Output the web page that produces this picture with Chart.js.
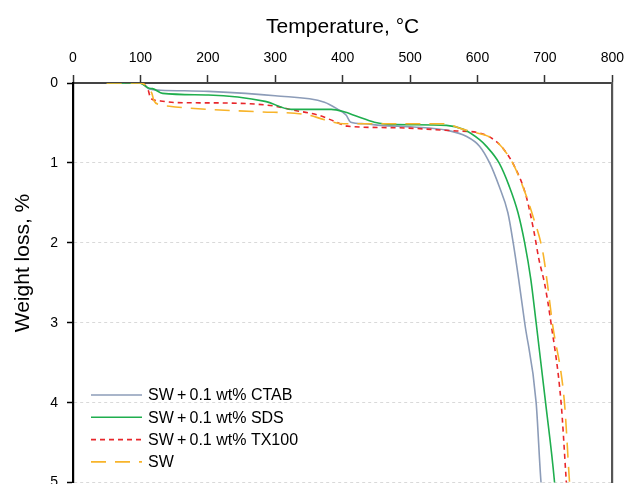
<!DOCTYPE html>
<html>
<head>
<meta charset="utf-8">
<script src="https://cdn.jsdelivr.net/npm/chart.js@4.4.1/dist/chart.umd.min.js"></script>
<style>
  html, body { margin: 0; padding: 0; background: #fff; overflow: hidden; }
  #wrap { width: 632px; height: 500px; }
</style>
</head>
<body>
<div id="wrap"><canvas id="myChart" width="632" height="500"></canvas></div>
<script>
// temperature (°C) and weight loss (%), one pair per curve
const ctabT = [50, 98, 105, 113, 130, 201, 300, 373, 393, 405, 412, 432, 456, 505, 554, 584, 603, 618, 632, 645, 653, 661, 670, 687, 694, 698]
const ctabW = [0, 0, 0.02, 0.075, 0.09, 0.105, 0.16, 0.24, 0.33, 0.40, 0.49, 0.51, 0.53, 0.55, 0.59, 0.67, 0.79, 1.0, 1.29, 1.62, 2.0, 2.45, 3.0, 4.0, 4.97, 5.3]

const sdsT = [50, 99, 113, 118, 133, 201, 285, 324, 383, 402, 422, 447, 480, 554, 579, 603, 613, 632, 647, 660, 670, 679, 687, 701, 714, 717]
const sdsW = [0, 0, 0.066, 0.07, 0.13, 0.15, 0.23, 0.33, 0.33, 0.36, 0.42, 0.49, 0.52, 0.53, 0.58, 0.71, 0.79, 1.0, 1.29, 1.62, 2.0, 2.45, 3.0, 4.0, 4.97, 5.3]

const tx100T = [50, 100, 108, 112, 115, 130, 152, 226, 300, 324, 363, 388, 407, 481, 569, 603, 635, 657, 672, 684, 691, 700, 709, 724, 731, 734]
const tx100W = [0, 0, 0.04, 0.1, 0.19, 0.225, 0.245, 0.25, 0.29, 0.335, 0.40, 0.48, 0.54, 0.56, 0.6, 0.625, 0.79, 1.08, 1.41, 1.87, 2.2, 2.53, 3.0, 4.0, 4.89, 5.3]

const swT = [50, 100, 108, 113, 117, 120, 128, 143, 201, 275, 349, 373, 402, 481, 549, 579, 588, 628, 652, 667, 682, 697, 704, 711, 729, 736, 739]
const swW = [0, 0, 0.03, 0.08, 0.13, 0.22, 0.27, 0.29, 0.33, 0.36, 0.40, 0.46, 0.51, 0.51, 0.51, 0.58, 0.6, 0.73, 1.0, 1.29, 1.66, 2.12, 2.53, 3.0, 4.0, 4.93, 5.3]

const seriesNames = ['SW\u2009+\u20090.1 wt% CTAB', 'SW\u2009+\u20090.1 wt% SDS', 'SW\u2009+\u20090.1 wt% TX100', 'SW']
const xTitle = 'Temperature, °C'
const yTitle = 'Weight loss, %'

const toPoints = (xs, ys) => xs.map((x, i) => ({ x: x, y: ys[i] }))

const ctx = document.getElementById('myChart')
const fontFam = '"Liberation Sans", Arial, sans-serif'

// legend + y title drawn by hand, inside the plot like the original
const legendInside = {
  id: 'legendInside',
  afterDraw(chart) {
    const c = chart.ctx
    const area = chart.chartArea
    c.save()
    // y axis title
    c.fillStyle = '#000'
    c.font = '21px ' + fontFam
    c.textAlign = 'center'
    c.textBaseline = 'middle'
    c.translate(23, 263)
    c.rotate(-Math.PI / 2)
    c.fillText(yTitle, 0, 0)
    c.restore()

    c.save()
    c.font = '16px ' + fontFam
    c.textBaseline = 'middle'
    c.textAlign = 'left'
    chart.data.datasets.forEach((ds, i) => {
      const y = area.top + 312 + i * 22.3
      const x0 = area.left + 18
      c.beginPath()
      c.strokeStyle = ds.borderColor
      c.lineWidth = ds.borderWidth
      c.setLineDash(ds.borderDash || [])
      c.moveTo(x0, y)
      c.lineTo(x0 + 51, y)
      c.stroke()
      c.setLineDash([])
      c.fillStyle = '#000'
      c.fillText(ds.label, x0 + 57, y + 1)
    })
    c.restore()
  }
}

const myChart = new Chart(ctx, {
  type: 'line',
  data: {
    datasets: [
      {
        label: seriesNames[0],
        data: toPoints(ctabT, ctabW),
        borderColor: '#8C9CB8',
        borderWidth: 1.6,
        order: 3
      },
      {
        label: seriesNames[1],
        data: toPoints(sdsT, sdsW),
        borderColor: '#1FAE4E',
        borderWidth: 1.6,
        order: 1
      },
      {
        label: seriesNames[2],
        data: toPoints(tx100T, tx100W),
        borderColor: '#E8262B',
        borderWidth: 1.6,
        borderDash: [5, 4],
        order: 2
      },
      {
        label: seriesNames[3],
        data: toPoints(swT, swW),
        borderColor: '#F8B42A',
        borderWidth: 1.6,
        borderDash: [15, 9],
        order: 0
      }
    ]
  },
  options: {
    responsive: false,
    animation: false,
    layout: { padding: { left: 0, right: 0, top: 0, bottom: 14 } },
    elements: {
      point: { radius: 0 },
      line: { cubicInterpolationMode: 'monotone', fill: false }
    },
    plugins: {
      legend: { display: false },
      tooltip: { enabled: false }
    },
    scales: {
      x: {
        type: 'linear',
        position: 'top',
        min: 0,
        max: 800,
        ticks: {
          stepSize: 100,
          color: '#000',
          padding: 8,
          font: { family: fontFam, size: 14 }
        },
        grid: {
          drawOnChartArea: false,
          drawTicks: true,
          tickLength: 8,
          tickColor: '#333',
          tickWidth: 1.5
        },
        border: { color: '#444', width: 2 },
        title: {
          display: true,
          text: xTitle,
          color: '#000',
          padding: { top: 15, bottom: 0 },
          font: { family: fontFam, size: 21 }
        },
        afterFit: s => { s.height = 83 }
      },
      y: {
        type: 'linear',
        position: 'left',
        reverse: true,
        min: 0,
        max: 5,
        ticks: {
          stepSize: 1,
          color: '#000',
          padding: 9,
          font: { family: fontFam, size: 14 }
        },
        grid: {
          color: ctx => ctx.tick && ctx.tick.value === 0 ? 'rgba(0,0,0,0)' : '#d9d9d9',
          lineWidth: 1,
          tickBorderDash: [],
          tickColor: '#000',
          tickLength: 6,
          tickWidth: 1.5
        },
        border: { color: '#000', width: 2.2, dash: [3, 3] },
        afterFit: s => { s.width = 73 }
      },
      yr: {
        type: 'linear',
        position: 'right',
        reverse: true,
        min: 0,
        max: 5,
        ticks: { display: false },
        grid: { display: false, drawTicks: false },
        border: { color: '#555', width: 2.2 },
        afterFit: s => { s.width = 15 }
      }
    }
  },
  plugins: [legendInside]
})
</script>
</body>
</html>
